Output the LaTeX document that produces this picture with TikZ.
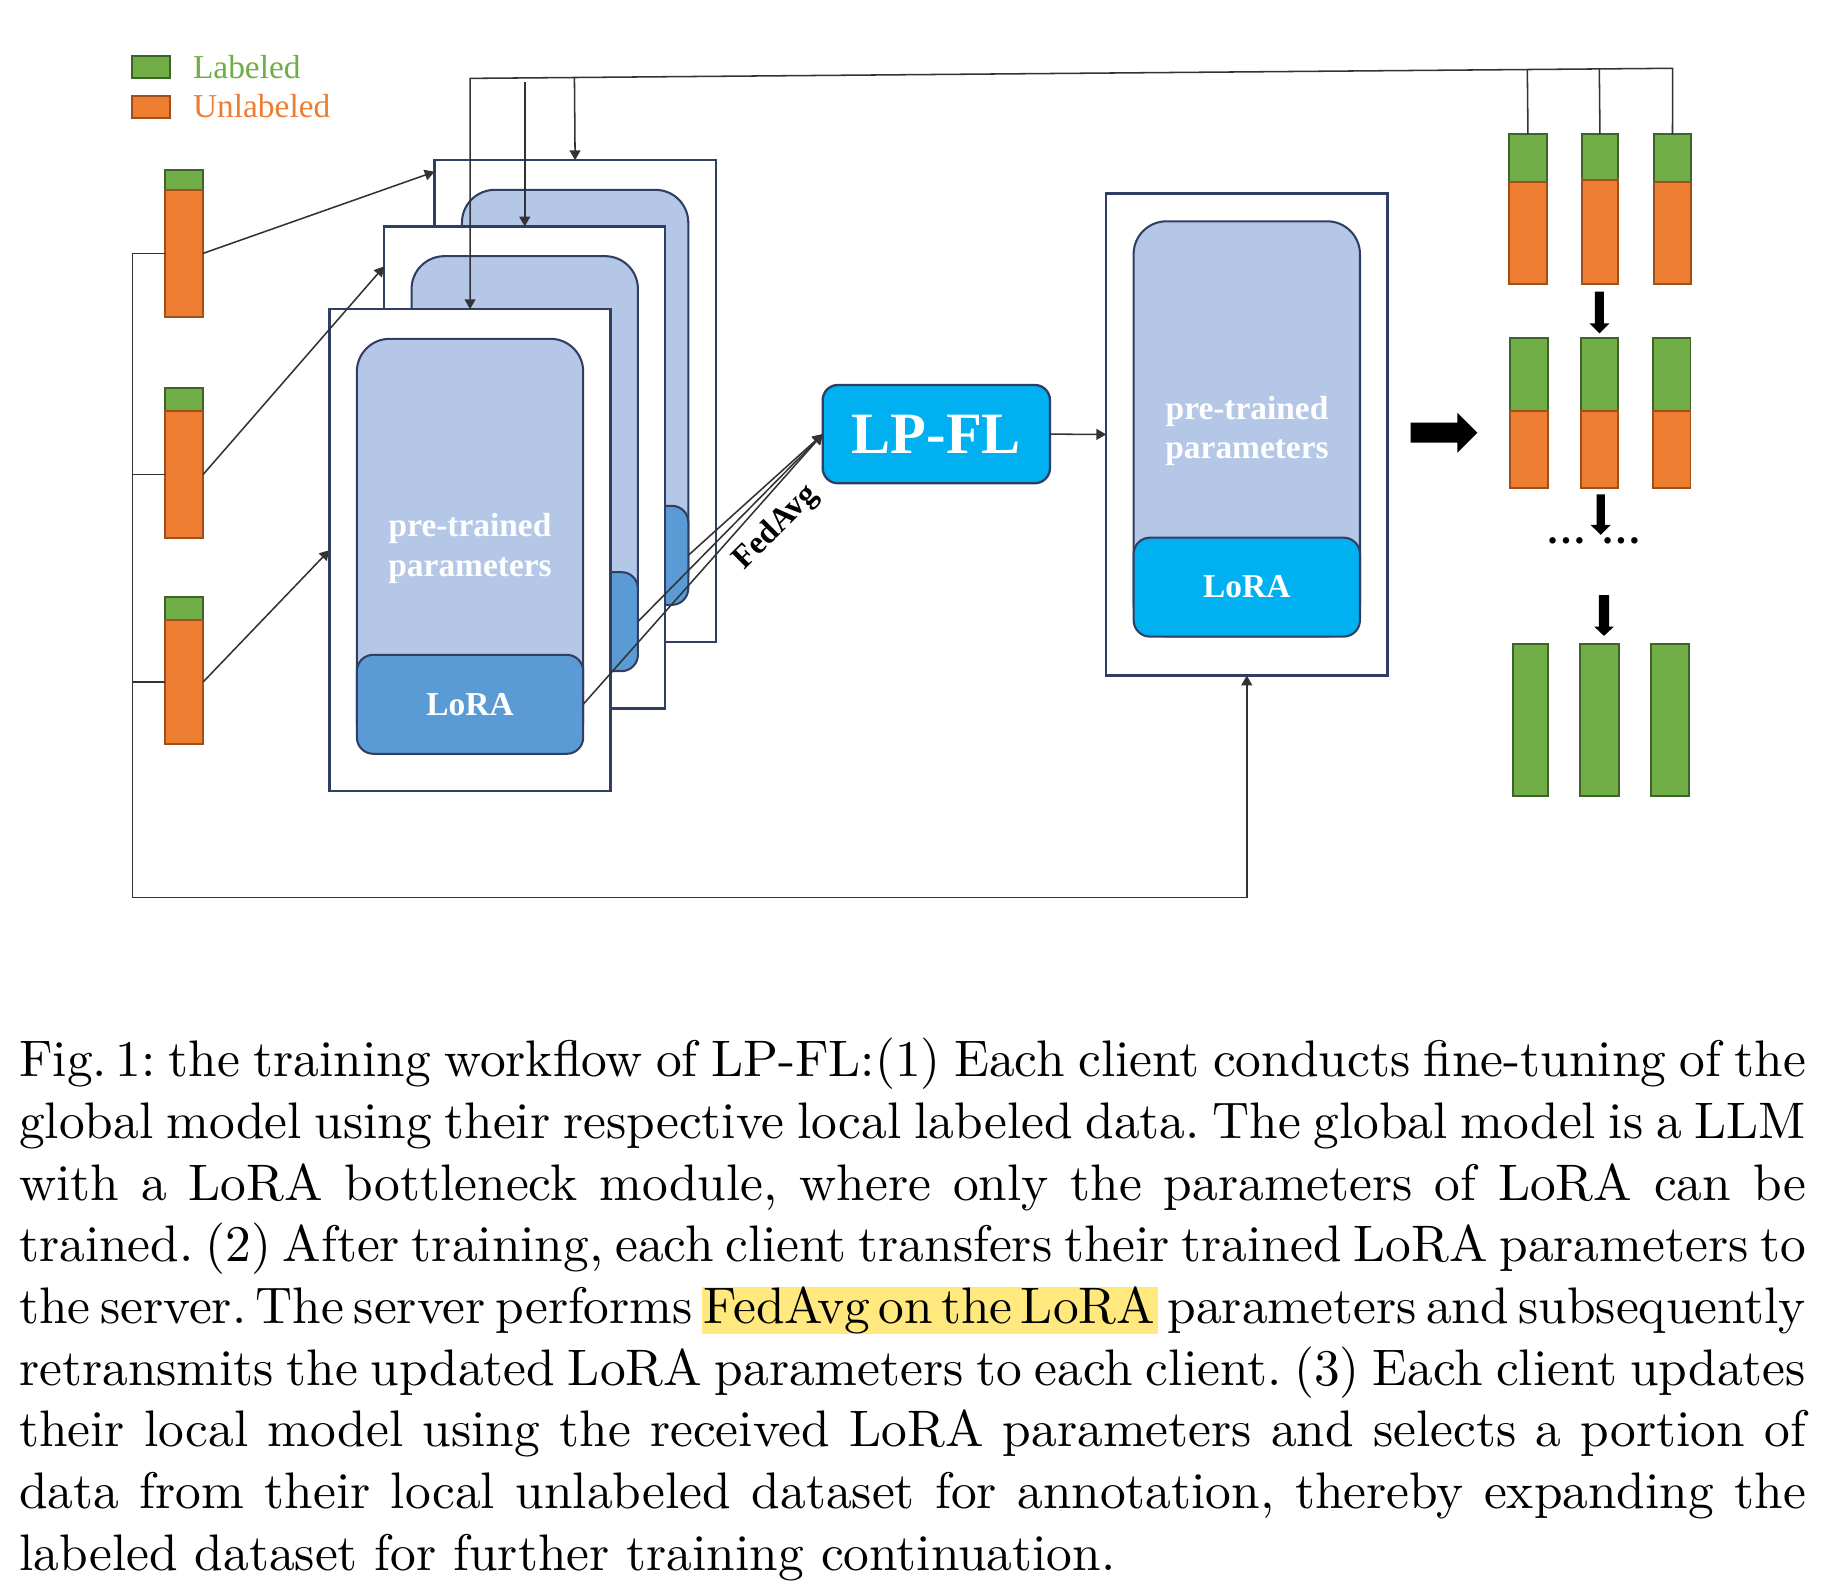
\documentclass[tikz,border=0pt]{standalone}
\usepackage{fontspec}
\newfontfamily\tms{Liberation Serif}
\usetikzlibrary{arrows.meta,calc}
\definecolor{edge}{RGB}{47,62,98}
\definecolor{lb}{HTML}{B4C7E7}
\definecolor{lmid}{HTML}{5B9BD5}
\definecolor{cyanb}{HTML}{00B0F0}
\definecolor{gfill}{HTML}{70AD47}
\definecolor{gdark}{HTML}{3F6428}
\definecolor{ofill}{HTML}{ED7D31}
\definecolor{odark}{HTML}{9E4F1B}
\definecolor{hl}{RGB}{255,233,127}
\newcommand\DD[1]{#1*0.228pt}
\newcommand\hlbox[1]{{\setlength\fboxsep{0pt}\colorbox{hl}{\hbox to 88.7pt{\rule[-1.96pt]{0pt}{8.94pt}\kern0.3pt#1\kern0.6pt}}}}
\newcommand\capline[1]{\hbox to 347.7pt{#1}}
\newcommand\capspacing{\frenchspacing\spaceskip=3.333pt plus 1.667pt minus 2.3pt\relax}
\tikzset{
  conn/.style={draw=black!80, line width=0.3pt},
  arr/.style={conn, -{Triangle[length=1.9pt,width=2.1pt]}},
  sz/.style 2 args={minimum width=\DD{#1}, minimum height=\DD{#2}},
  wbox/.style={rectangle, draw=edge, fill=white, line width=0.45pt, inner sep=0, outer sep=0, sz={240}{411.5}},
  ibox/.style={rectangle, draw=edge, fill=lb, line width=0.4pt, rounded corners=\DD{28}, inner sep=0, outer sep=0, sz={193.2}{354.2}},
  lorabox/.style={rectangle, draw=edge, line width=0.4pt, rounded corners=\DD{14}, inner sep=0, outer sep=0, sz={193.2}{84.5}, text=white, font=\tms\bfseries\fontsize{6.5}{7.8}\selectfont},
  ptext/.style={inner sep=0, text=white, font=\tms\bfseries\fontsize{6.5}{7.8}\selectfont, anchor=base},
  gbar/.style={rectangle, draw=gdark, fill=gfill, line width=0.35pt, inner sep=0, outer sep=0},
  obar/.style={rectangle, draw=odark, fill=ofill, line width=0.35pt, inner sep=0, outer sep=0},
  legtext/.style={inner sep=0, anchor=base west, font=\tms\fontsize{6.5}{7.8}\selectfont},
}
\begin{document}
\begin{tikzpicture}[x=0.228pt,y=-0.228pt]
\useasboundingbox[fill=white] (0,0) rectangle (1568,1352);

% legend
\node[gbar, sz={31.9}{18.5}] (legG) at (128.85,57.05) {};
\node[obar, sz={31.9}{18.5}] (legO) at (128.85,91.15) {};
\node[legtext, text=gfill] (legGt) at (163.9,66.9) {Labeled};
\node[legtext, text=ofill] (legOt) at (163.9,100.4) {Unlabeled};

% left data bars
\node[gbar, sz={32.5}{17.1}] (b1g) at (157.15,153.65) {};
\node[obar, sz={32.5}{108.1}] (b1o) at (157.15,216.25) {};
\node[gbar, sz={32.5}{19}] (b2g) at (157.15,341) {};
\node[obar, sz={32.5}{109}] (b2o) at (157.15,405) {};
\node[gbar, sz={32.5}{19.9}] (b3g) at (157.15,519.25) {};
\node[obar, sz={32.5}{105.8}] (b3o) at (157.15,582.1) {};

% client models (back, middle, front)
\node[wbox] (back) at (490.9,342.45) {};
\node[ibox] (backin) at (490.9,339.15) {};
\node[lorabox, fill=lmid] (blora) at (490.9,474.0) {};

\node[wbox] (mid) at (447.9,399.05) {};
\node[ibox] (midin) at (447.9,395.75) {};
\node[lorabox, fill=lmid] (mlora) at (447.9,530.6) {};

\node[wbox] (front) at (401.2,469.6) {};
\node[ibox] (frontin) at (401.2,466.3) {};
\node[lorabox, fill=lmid] (flora) at (401.2,601.15) {LoRA};
\node[ptext] (fpt1) at (401.2,458) {pre-trained};
\node[ptext] (fpt2) at (401.2,492.2) {parameters};

% server
\node[rectangle, draw=edge, fill=cyanb, line width=0.45pt, rounded corners=\DD{13}, inner sep=0, outer sep=0, sz={194}{83.9}, text=white, font=\tms\bfseries\fontsize{11.4}{13}\selectfont] (lpfl) at (799.2,370.55) {LP-FL};

% global model
\node[wbox] (global) at (1064.2,370.85) {};
\node[ibox] (globalin) at (1064.2,366) {};
\node[lorabox, fill=cyanb] (glora) at (1064.2,501.15) {LoRA};
\node[ptext] (gpt1) at (1064.4,357.9) {pre-trained};
\node[ptext] (gpt2) at (1064.4,391.2) {parameters};

% right bars
\node[gbar, sz={31.8}{41}] (r1c1g) at (1304.2,135.1) {};
\node[obar, sz={31.8}{86.8}] (r1c1o) at (1304.2,199) {};
\node[gbar, sz={31.3}{39}] (r1c2g) at (1365.65,134.05) {};
\node[obar, sz={31.3}{88.9}] (r1c2o) at (1365.65,197.95) {};
\node[gbar, sz={31.5}{41}] (r1c3g) at (1427.55,135.1) {};
\node[obar, sz={31.5}{86.8}] (r1c3o) at (1427.55,199) {};

\node[gbar, sz={32.1}{61.7}] (r2c1g) at (1304.95,319.65) {};
\node[obar, sz={32.1}{65.7}] (r2c1o) at (1304.95,383.35) {};
\node[gbar, sz={31.8}{61.7}] (r2c2g) at (1365.4,319.65) {};
\node[obar, sz={31.8}{65.7}] (r2c2o) at (1365.4,383.35) {};
\node[gbar, sz={32.3}{61.7}] (r2c3g) at (1426.85,319.65) {};
\node[obar, sz={32.3}{65.7}] (r2c3o) at (1426.85,383.35) {};

\node[gbar, sz={30.5}{129.7}] (r3c1) at (1306.35,614.55) {};
\node[gbar, sz={33}{129.7}] (r3c2) at (1365.1,614.55) {};
\node[gbar, sz={32.7}{129.7}] (r3c3) at (1425.55,614.55) {};

\node[inner sep=0, anchor=base, font=\tms\bfseries\fontsize{7.75}{9}\selectfont] (dots) at (1360.7,464) {…\kern2.9pt…};

% fat arrows
\fill[black] (1204,360.8) -- (1243.9,360.8) -- (1243.9,352.2) -- (1261,369.3) -- (1243.9,386.4) -- (1243.9,377.8) -- (1204,377.8) -- cycle;
\fill[black] (1361.35,249) -- (1369.05,249) -- (1369.05,276) -- (1373.75,276) -- (1365.2,284.5) -- (1356.65,276) -- (1361.35,276) -- cycle;
\fill[black] (1362.75,421.9) -- (1369.85,421.9) -- (1369.85,448.1) -- (1374.85,448.1) -- (1366.3,456.6) -- (1357.75,448.1) -- (1362.75,448.1) -- cycle;
\fill[black] (1364.8,507.9) -- (1373.4,507.9) -- (1373.4,534.9) -- (1377.4,534.9) -- (1369.1,542.8) -- (1360.8,534.9) -- (1364.8,534.9) -- cycle;

% connectors: top distribution line
\coordinate (tl) at (401.3,66.9);
\coordinate (tr) at (1427.7,58.3);
\coordinate (mtop) at (447.9,69.7);
\draw[arr] (r1c3g.north) -- (tr) -- (tl) -- (front.north);
\draw[conn] (r1c1g.north) -- ($(tl)!(r1c1g.north)!(tr)$);
\draw[conn] (r1c2g.north) -- ($(tl)!(r1c2g.north)!(tr)$);
\draw[arr] ($(tl)!(back.north)!(tr)$) -- (back.north);
\draw[arr] (mtop) -- (mid.north);

% data to clients
\draw[arr] (b1o.east) -- ($(back.north west)+(0,9.9)$);
\draw[arr] (b2o.east) -- ($(mid.north west)+(0,34.1)$);
\draw[arr] (b3o.east) -- (front.west);

% feedback loop
\coordinate (fbc) at (112.9,765.9);
\draw[arr] (b1o.west) -| (fbc) -| (global.south);
\draw[conn] (b2o.west) -- (b2o.west -| fbc);
\draw[conn] (b3o.west) -- (b3o.west -| fbc);

% FedAvg
\draw[arr] (flora.east) -- (lpfl.west);
\draw[arr] (mlora.east) -- (lpfl.west);
\draw[arr] (blora.east) -- (lpfl.west);
\node[inner sep=0, rotate=45, font=\tms\bfseries\fontsize{6.3}{7.5}\selectfont] (fedavg) at (662.5,450.5) {FedAvg};
\draw[arr] (lpfl.east) -- (global.west);

% caption
\node[anchor=base west, inner sep=0, font=\fontsize{10}{12}\selectfont] (cap) at (15.6,919.2) {\vtop{\hsize=347.7pt\capspacing
\capline{Fig.\,1: the training workflow of LP-FL:(1) Each client conducts fine-tuning of the}
\capline{global model using their respective local labeled data. The global model is a LLM}
\capline{with a LoRA bottleneck module, where only the parameters of LoRA can be}
\capline{trained. (2) After training, each client transfers their trained LoRA parameters to}
\capline{the server. The server performs \hlbox{FedAvg on the LoRA} parameters and subsequently}
\capline{retransmits the updated LoRA parameters to each client. (3) Each client updates}
\capline{their local model using the received LoRA parameters and selects a portion of}
\capline{data from their local unlabeled dataset for annotation, thereby expanding the}
\hbox{labeled dataset for further training continuation.}}};
\end{tikzpicture}
\end{document}
